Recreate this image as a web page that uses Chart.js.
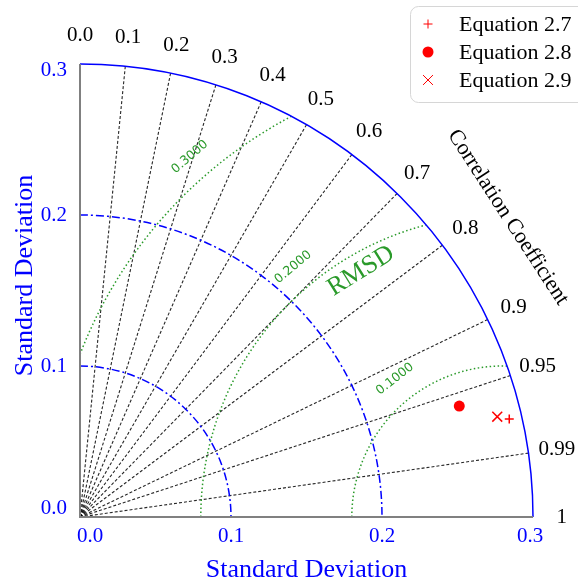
<!DOCTYPE html>
<html>
<head>
<meta charset="utf-8">
<title>Taylor Diagram</title>
<script src="https://cdn.jsdelivr.net/npm/chart.js@4/dist/chart.umd.min.js"></script>
<style>
    html, body { margin: 0; padding: 0; background: #ffffff; }
    #taylorChart { display: block; }
</style>
</head>
<body>
<canvas id="taylorChart" width="578" height="584"></canvas>
<script>
// Model statistics (standard deviation + correlation against the reference)
const seriesNames = ['Equation 2.7', 'Equation 2.8', 'Equation 2.9'];
const stdDevs = [0.2916, 0.2617, 0.2842];
const correlations = [0.9749, 0.9598, 0.9723];
const refStd = 0.28;

// Standard deviation axis
const stdTicks = [0.0, 0.1, 0.2, 0.3];
const stdTickLabels = ['0.0', '0.1', '0.2', '0.3'];
const stdArcs = [0.1, 0.2];

// Correlation axis
const corrLines = [0.1, 0.2, 0.3, 0.4, 0.5, 0.6, 0.7, 0.8, 0.9, 0.95, 0.99];
const corrTicks = [0.0, 0.1, 0.2, 0.3, 0.4, 0.5, 0.6, 0.7, 0.8, 0.9, 0.95, 0.99, 1.0];
const corrTickLabels = ['0.0', '0.1', '0.2', '0.3', '0.4', '0.5', '0.6', '0.7', '0.8', '0.9', '0.95', '0.99', '1'];

// Centred RMS difference contours
const rmsLevels = [0.1, 0.2, 0.3];
const rmsLabels = ['0.1000', '0.2000', '0.3000'];

const SERIF = '"Liberation Serif", "Times New Roman", serif';
const BLUE = '#0000ff';
const GREEN = '#2a9a2a';
const RED = '#ff0000';

const markerStyles = [
    { pointStyle: 'cross', radius: 4.5, borderWidth: 1.5 },
    { pointStyle: 'circle', radius: 5.5, borderWidth: 0 },
    { pointStyle: 'crossRot', radius: 7, borderWidth: 1.5 }
];

function polarPoint(std, corr) {
    const theta = Math.acos(corr);
    return { x: std * Math.cos(theta), y: std * Math.sin(theta) };
}

const datasets = seriesNames.map((name, i) => ({
    label: name,
    data: [polarPoint(stdDevs[i], correlations[i])],
    pointStyle: markerStyles[i].pointStyle,
    pointRadius: markerStyles[i].radius,
    pointHoverRadius: markerStyles[i].radius,
    borderWidth: markerStyles[i].borderWidth,
    borderColor: RED,
    backgroundColor: RED
}));

const rMax = stdTicks[stdTicks.length - 1];

const taylorGrid = {
    id: 'taylorGrid',
    beforeDatasetsDraw(chart) {
        const { ctx, scales: { x, y } } = chart;
        const px = (dx, dy) => [x.getPixelForValue(dx), y.getPixelForValue(dy)];
        const [ox, oy] = px(0, 0);
        const unit = x.getPixelForValue(1) - ox;

        ctx.save();

        // correlation rays
        ctx.strokeStyle = 'rgba(0,0,0,0.85)';
        ctx.lineWidth = 1.1;
        ctx.setLineDash([3, 2]);
        corrLines.forEach(c => {
            const p = polarPoint(rMax, c);
            const [ex, ey] = px(p.x, p.y);
            ctx.beginPath();
            ctx.moveTo(ox, oy);
            ctx.lineTo(ex, ey);
            ctx.stroke();
        });

        // std dev arcs (dash-dot)
        ctx.strokeStyle = BLUE;
        ctx.lineWidth = 1.5;
        ctx.setLineDash([8, 3, 2, 3]);
        stdArcs.forEach(s => {
            ctx.beginPath();
            ctx.arc(ox, oy, s * unit, -Math.PI / 2, 0);
            ctx.stroke();
        });

        // RMS difference contours around the reference point
        ctx.strokeStyle = GREEN;
        ctx.lineWidth = 1.5;
        ctx.setLineDash([1.5, 2.5]);
        rmsLevels.forEach(r => {
            const start = refStd - r >= 0 ? Math.PI : Math.acos(-refStd / r);
            const xInt = (rMax * rMax - r * r + refStd * refStd) / (2 * refStd);
            const end = Math.acos((xInt - refStd) / r);
            ctx.beginPath();
            const steps = 120;
            for (let k = 0; k <= steps; k++) {
                const phi = start + (end - start) * k / steps;
                const [qx, qy] = px(refStd + r * Math.cos(phi), r * Math.sin(phi));
                if (k === 0) ctx.moveTo(qx, qy); else ctx.lineTo(qx, qy);
            }
            ctx.stroke();
        });

        // outer arc
        ctx.setLineDash([]);
        ctx.strokeStyle = BLUE;
        ctx.lineWidth = 1.5;
        ctx.beginPath();
        ctx.arc(ox, oy, rMax * unit, -Math.PI / 2, 0);
        ctx.stroke();

        // axis lines
        ctx.strokeStyle = '#808080';
        ctx.lineWidth = 2;
        const [tx, ty] = px(0, rMax);
        const [rx, ry] = px(rMax, 0);
        ctx.beginPath();
        ctx.moveTo(tx, ty);
        ctx.lineTo(ox, oy);
        ctx.lineTo(rx, ry);
        ctx.stroke();

        ctx.restore();
    },
    afterDraw(chart) {
        const { ctx, chartArea: area, scales: { x, y } } = chart;
        const px = (dx, dy) => [x.getPixelForValue(dx), y.getPixelForValue(dy)];

        ctx.save();
        ctx.textAlign = 'center';
        ctx.textBaseline = 'middle';

        // std dev tick labels
        ctx.fillStyle = BLUE;
        ctx.font = '21px ' + SERIF;
        stdTicks.forEach((v, i) => {
            const xp = Math.min(Math.max(x.getPixelForValue(v), area.left + 10), area.right - 3);
            ctx.fillText(stdTickLabels[i], xp, area.bottom + 19);
        });
        ctx.textAlign = 'right';
        stdTicks.forEach((v, i) => {
            const yp = Math.min(Math.max(y.getPixelForValue(v), area.top + 6), area.bottom - 9);
            ctx.fillText(stdTickLabels[i], area.left - 13, yp);
        });

        // axis titles
        ctx.textAlign = 'center';
        ctx.font = '26px ' + SERIF;
        ctx.fillText('Standard Deviation', (area.left + area.right) / 2, area.bottom + 53);
        ctx.save();
        ctx.translate(25, (area.top + area.bottom) / 2 - 15);
        ctx.rotate(-Math.PI / 2);
        ctx.fillText('Standard Deviation', 0, 0);
        ctx.restore();

        // correlation labels
        ctx.fillStyle = '#000000';
        ctx.font = '21px ' + SERIF;
        corrTicks.forEach((c, i) => {
            const p = polarPoint(0.319, c);
            const [lx, ly] = px(p.x, p.y);
            ctx.fillText(corrTickLabels[i], lx, ly);
        });

        // correlation title
        ctx.font = '22px ' + SERIF;
        const tp = polarPoint(0.346, Math.cos(35 * Math.PI / 180));
        const [cx, cy] = px(tp.x, tp.y);
        ctx.save();
        ctx.translate(cx, cy);
        ctx.rotate(57 * Math.PI / 180);
        ctx.fillText('Correlation Coefficient', 0, 0);
        ctx.restore();

        // RMS contour labels
        ctx.fillStyle = GREEN;
        ctx.font = '12.5px "DejaVu Sans", sans-serif';
        const labelAngles = [128, 130, 131];
        rmsLevels.forEach((r, i) => {
            const phi = labelAngles[i] * Math.PI / 180;
            const rr = r + 0.016;
            const [lx, ly] = px(refStd + rr * Math.cos(phi), rr * Math.sin(phi));
            ctx.save();
            ctx.translate(lx, ly);
            ctx.rotate(-(labelAngles[i] - 90) * Math.PI / 180);
            ctx.fillText(rmsLabels[i], 0, 0);
            ctx.restore();
        });

        ctx.font = '26px ' + SERIF;
        const [mx, my] = px(0.1861, 0.1629);
        ctx.save();
        ctx.translate(mx, my);
        ctx.rotate(-32 * Math.PI / 180);
        ctx.fillText('RMSD', 0, 0);
        ctx.restore();

        // legend
        ctx.setLineDash([]);
        ctx.fillStyle = '#ffffff';
        ctx.strokeStyle = '#d6d6d6';
        ctx.lineWidth = 1;
        ctx.beginPath();
        ctx.roundRect(410.5, 6.5, 180, 96, 8);
        ctx.fill();
        ctx.stroke();
        ctx.textAlign = 'left';
        ctx.font = '22px ' + SERIF;
        seriesNames.forEach((name, i) => {
            const rowY = 24 + i * 28;
            const m = markerStyles[i];
            ctx.strokeStyle = RED;
            ctx.fillStyle = RED;
            Chart.helpers.drawPoint(ctx, {
                pointStyle: m.pointStyle,
                radius: m.radius,
                borderWidth: m.borderWidth,
                rotation: 0
            }, 428, rowY);
            ctx.fillStyle = '#000000';
            ctx.fillText(name, 459, rowY + 1);
        });

        ctx.restore();
    }
};

new Chart(document.getElementById('taylorChart'), {
    type: 'scatter',
    data: { datasets: datasets },
    options: {
        responsive: false,
        animation: false,
        layout: {
            padding: { left: 80, right: 45, top: 64, bottom: 67 }
        },
        scales: {
            x: { type: 'linear', min: 0, max: rMax, display: false },
            y: { type: 'linear', min: 0, max: rMax, display: false }
        },
        plugins: {
            legend: { display: false },
            tooltip: { enabled: false }
        }
    },
    plugins: [taylorGrid]
});
</script>
</body>
</html>
